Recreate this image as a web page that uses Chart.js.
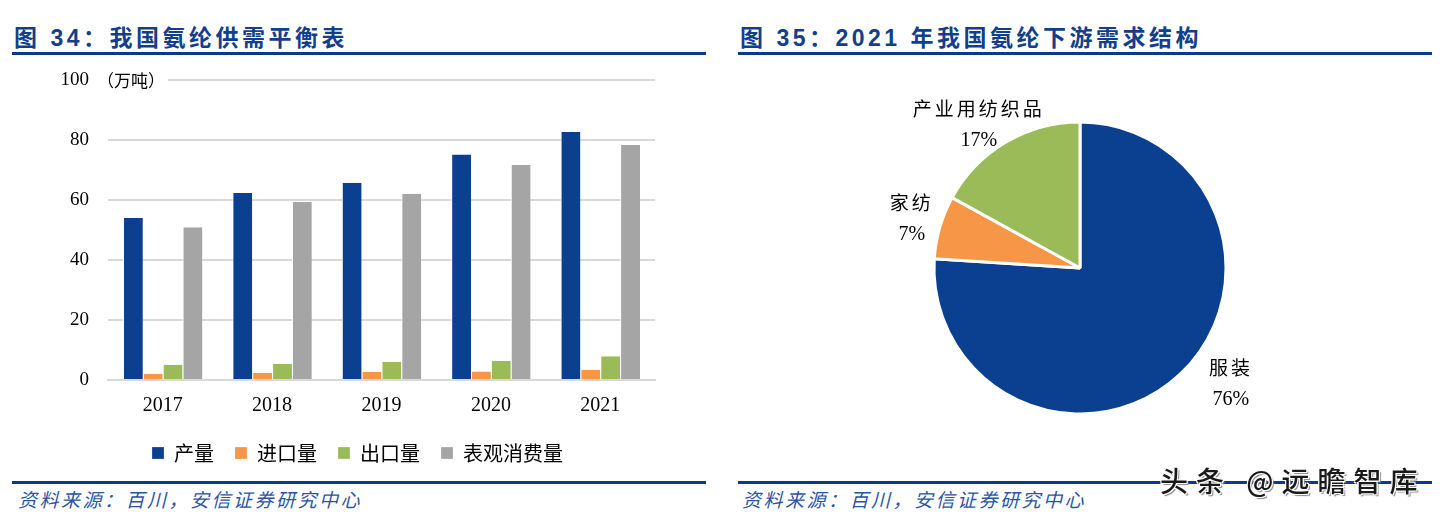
<!DOCTYPE html>
<html>
<head>
<meta charset="utf-8">
<script src="https://cdn.jsdelivr.net/npm/chart.js@4.4.1/dist/chart.umd.min.js"></script>
<style>
  html, body { margin: 0; padding: 0; background: #fff; }
  body { width: 1440px; height: 523px; position: relative; overflow: hidden; }
  .title { position: absolute; top: 19px; font: bold 23px "Liberation Sans", "Noto Sans CJK SC", sans-serif; color: #123f8c; letter-spacing: 3.5px; white-space: nowrap; }
  .rule { position: absolute; height: 3px; background: #0b3a8c; }
  .src { position: absolute; top: 485px; font: italic 19px "Noto Sans CJK SC", sans-serif; color: #2a55a5; letter-spacing: 2.5px; white-space: nowrap; }
  .box { position: absolute; }
  .mark { position: absolute; left: 1160px; top: 460px; font: 500 28px "Noto Sans CJK SC", sans-serif; letter-spacing: 8px; color: #1a1a1a; white-space: nowrap;
          text-shadow: -1px -1px 0 #fff, 1px -1px 0 #fff, -1px 1px 0 #fff, 1px 1px 0 #fff, 2px 2px 1px #888; }
</style>
</head>
<body>
<div class="title" style="left:14px">图 34：我国氨纶供需平衡表</div>
<div class="title" style="left:740px">图 35：2021 年我国氨纶下游需求结构</div>
<div class="rule" style="left:12px;width:694px;top:52px"></div>
<div class="rule" style="left:738px;width:694px;top:52px"></div>

<div class="box" style="left:0;top:50px;width:720px;height:423px"><canvas id="barChart"></canvas></div>
<div class="box" style="left:720px;top:60px;width:720px;height:420px"><canvas id="pieChart"></canvas></div>

<div class="rule" style="left:12px;width:694px;top:481px"></div>
<div class="rule" style="left:738px;width:694px;top:481px"></div>
<div class="src" style="left:18px">资料来源：百川，安信证券研究中心</div>
<div class="src" style="left:742px">资料来源：百川，安信证券研究中心</div>
<div class="mark">头条 @远瞻智库</div>

<script>
// 图34 数据（万吨）
const years = ['2017', '2018', '2019', '2020', '2021'];
const output = [54.1, 62.4, 65.8, 75.3, 82.8];
const imports = [2.0, 2.4, 2.7, 2.8, 3.4];
const exportsQ = [5.1, 5.4, 6.1, 6.4, 7.9];
const consumption = [51.0, 59.4, 62.2, 71.8, 78.4];
const yTicks = [0, 20, 40, 60, 80, 100];

// 图35 数据
const uses = ['服装', '家纺', '产业用纺织品'];
const useShare = [76, 7, 17];

const BLUE = '#0b3f8f', ORANGE = '#f79646', GREEN = '#9bbb59', GRAY = '#a5a5a5';
const serif = '"Liberation Serif", "Noto Sans CJK SC", serif';
const cjk = '"Noto Sans CJK SC", sans-serif';

// "（万吨）" 单位，贴在 100 刻度后面
const unitLabel = {
  id: 'unitLabel',
  afterDraw(chart) {
    const y = chart.scales.y;
    const py = y.getPixelForValue(100);
    const ctx = chart.ctx;
    ctx.save();
    ctx.font = '17px ' + cjk;
    const w = ctx.measureText('（万吨）').width;
    ctx.fillStyle = '#fff';
    ctx.fillRect(y.right - 12, py - 10, w + 4, 20);
    ctx.fillStyle = '#000';
    ctx.textBaseline = 'middle';
    ctx.fillText('（万吨）', y.right - 11, py);
    ctx.restore();
  }
};

function initBar() {
  const ctx = document.getElementById('barChart').getContext('2d');
  const ds = (label, data, color) => ({
    label, data, backgroundColor: color, borderColor: '#fff', borderWidth: { left: 1, right: 0, top: 0, bottom: 0 },
    categoryPercentage: 0.726, barPercentage: 1.0
  });
  new Chart(ctx, {
    type: 'bar',
    data: {
      labels: years,
      datasets: [
        ds('产量', output, BLUE),
        ds('进口量', imports, ORANGE),
        ds('出口量', exportsQ, GREEN),
        ds('表观消费量', consumption, GRAY)
      ]
    },
    options: {
      responsive: true,
      maintainAspectRatio: false,
      animation: false,
      layout: { padding: { top: 0, right: 65, left: 60, bottom: 0 } },
      scales: {
        x: {
          afterFit: s => { s.height = 42; },
          grid: { display: false },
          border: { display: true, color: '#d9d9d9', width: 2 },
          ticks: { color: '#000', font: { family: serif, size: 20 }, padding: 6 }
        },
        y: {
          min: 0, max: 100,
          afterBuildTicks: s => { s.ticks = yTicks.map(v => ({ value: v })); },
          afterFit: s => { s.width = 48; },
          grid: { color: '#d9d9d9', lineWidth: 2, drawTicks: false },
          border: { display: false },
          ticks: { color: '#000', font: { family: serif, size: 19 }, padding: 19 }
        }
      },
      plugins: {
        legend: {
          position: 'bottom',
          labels: {
            boxWidth: 12, boxHeight: 12, padding: 21, color: '#000',
            font: { family: cjk, size: 20 }
          }
        },
        tooltip: { enabled: false }
      }
    },
    plugins: [unitLabel]
  });
}

// 饼图外侧标签（名称 + 百分比）
const pieLabels = {
  id: 'pieLabels',
  afterDatasetsDraw(chart, args, opts) {
    const ctx = chart.ctx;
    const meta = chart.getDatasetMeta(0);
    ctx.save();
    ctx.fillStyle = '#000';
    ctx.textAlign = 'center';
    ctx.textBaseline = 'middle';
    meta.data.forEach((arc, i) => {
      const mid = (arc.startAngle + arc.endAngle) / 2;
      const r = arc.outerRadius * opts.factor;
      const nudge = opts.nudge[i];
      const x = arc.x + Math.cos(mid) * r + nudge[0];
      const y = arc.y + Math.sin(mid) * r + nudge[1];
      ctx.letterSpacing = '3px';
      ctx.font = '19px ' + cjk;
      ctx.fillText(uses[i], x, y - 16);
      ctx.letterSpacing = '0px';
      ctx.font = '20px ' + serif;
      ctx.fillText(useShare[i] + '%', x, y + 16);
    });
    ctx.restore();
  }
};

function initPie() {
  const ctx = document.getElementById('pieChart').getContext('2d');
  new Chart(ctx, {
    type: 'pie',
    data: {
      labels: uses,
      datasets: [{
        data: useShare,
        backgroundColor: [BLUE, ORANGE, GREEN],
        borderColor: '#fff',
        borderWidth: 3,
        radius: 146
      }]
    },
    options: {
      responsive: true,
      maintainAspectRatio: false,
      animation: false,
      layout: { padding: { left: 0, right: 0, top: 0, bottom: 4 } },
      plugins: {
        legend: { display: false },
        tooltip: { enabled: false },
        pieLabels: { factor: 1.2, nudge: [[31, -12], [0, 0], [-12, 8]] }
      }
    },
    plugins: [pieLabels]
  });
}

document.addEventListener('DOMContentLoaded', () => {
  initBar();
  initPie();
});
</script>
</body>
</html>
